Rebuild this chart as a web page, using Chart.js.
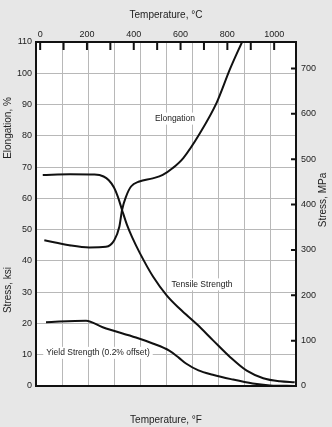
<!DOCTYPE html>
<html>
<head>
<meta charset="utf-8">
<script src="https://cdn.jsdelivr.net/npm/chart.js@4.4.1/dist/chart.umd.min.js"></script>
<style>
html, body { margin: 0; padding: 0; background: #e7e7e7; }
#wrap { width: 332px; height: 427px; }
</style>
</head>
<body>
<div id="wrap"><canvas id="chart" width="332" height="427"></canvas></div>
<script>
// Readings (x in °F, y in % or ksi)
const elongationF   = [64, 256, 410, 538, 602, 641, 662, 692, 731, 795, 898, 975, 1052, 1133, 1262, 1390, 1492, 1585];
const elongationPct = [46.6, 45, 44.3, 44.5, 46.6, 50.9, 56.3, 60.5, 63.8, 65.4, 66.4, 67.5, 69.7, 72.9, 80.9, 90.6, 101.3, 110];

const tensileF   = [52, 262, 450, 520, 560, 600, 630, 662, 700, 740, 800, 900, 1005, 1108, 1236, 1362, 1492, 1621, 1748, 1877, 1990];
const tensileKsi = [67.5, 67.7, 67.6, 67.0, 65.8, 63.5, 60.5, 56.3, 51.5, 47.5, 42.4, 35, 29, 24.6, 19.8, 14.6, 9.3, 4.9, 2.5, 1.5, 1.2];

const yieldF   = [77, 385, 513, 769, 898, 1025, 1100, 1154, 1250, 1360, 1500, 1667, 1800, 1990];
const yieldKsi = [20.4, 20.9, 18.8, 15.5, 13.6, 11.3, 9, 7.2, 5, 3.6, 2.2, 0.8, 0.2, 0];

// axis ticks
const fahrenheitTicks = [0, 200, 400, 600, 800, 1000, 1200, 1400, 1600, 1800, 2000];
const celsiusTicks = [0, 100, 200, 300, 400, 500, 600, 700, 800, 900, 1000];
const ksiTicks = [0, 10, 20, 30, 40, 50, 60, 70, 80, 90, 100, 110];
const mpaTicks = [0, 100, 200, 300, 400, 500, 600, 700];

// curve labels: [text, °F, ksi]
const curveLabels = [
    ['Elongation', 1069, 85.5],
    ['Tensile Strength', 1277, 32.5],
    ['Yield Strength (0.2% offset)', 477, 10.6]
];

const KSI_TO_MPA = 6.895;
const toPoints = (xs, ys) => xs.map((x, i) => ({ x: x, y: ys[i] }));

const lineStyle = {
    borderColor: '#111',
    borderWidth: 2,
    pointRadius: 0,
    cubicInterpolationMode: 'monotone',
    fill: false
};

const FONT = 'Liberation Sans, Arial, sans-serif';

// page background, white plot, labels, inward ticks, side titles
const decorations = {
    id: 'decorations',
    beforeDraw(chart) {
        const { ctx, chartArea: a } = chart;
        ctx.save();
        ctx.fillStyle = '#e7e7e7';
        ctx.fillRect(0, 0, chart.width, chart.height);
        ctx.fillStyle = '#fff';
        ctx.fillRect(a.left, a.top, a.right - a.left, a.bottom - a.top);
        ctx.restore();
    },
    beforeDatasetsDraw(chart) {
        const { ctx, scales } = chart;
        ctx.save();
        ctx.font = '8.5px ' + FONT;
        ctx.textAlign = 'center';
        ctx.textBaseline = 'middle';
        curveLabels.forEach(([text, f, v]) => {
            const px = scales.x.getPixelForValue(f);
            const py = scales.y.getPixelForValue(v);
            const w = ctx.measureText(text).width;
            ctx.fillStyle = '#fff';
            ctx.fillRect(px - w / 2 - 3, py - 6, w + 6, 12);
            ctx.fillStyle = '#222';
            ctx.fillText(text, px, py);
        });
        ctx.restore();
    },
    afterDraw(chart) {
        const { ctx, chartArea: a, scales } = chart;
        ctx.save();
        ctx.strokeStyle = '#111';
        ctx.lineWidth = 2;
        ctx.beginPath();
        scales.xC.ticks.forEach(t => {
            const px = scales.xC.getPixelForValue(t.value);
            ctx.moveTo(px, a.top);
            ctx.lineTo(px, a.top + 8);
        });
        scales.yM.ticks.forEach(t => {
            if (t.value === 0) return;
            const py = scales.yM.getPixelForValue(t.value);
            ctx.moveTo(a.right - 5, py);
            ctx.lineTo(a.right, py);
        });
        ctx.stroke();

        ctx.fillStyle = '#222';
        ctx.font = '10px ' + FONT;
        ctx.textAlign = 'center';
        ctx.textBaseline = 'middle';
        const vtext = (text, x, y) => {
            ctx.save();
            ctx.translate(x, y);
            ctx.rotate(-Math.PI / 2);
            ctx.fillText(text, 0, 0);
            ctx.restore();
        };
        vtext('Elongation, %', 8, 128);
        vtext('Stress, ksi', 8, 290);
        vtext('Stress, MPa', 323, 200);
        ctx.restore();
    }
};

const ctx = document.getElementById('chart').getContext('2d');
new Chart(ctx, {
    type: 'line',
    data: {
        datasets: [
            Object.assign({ label: 'Elongation', data: toPoints(elongationF, elongationPct) }, lineStyle),
            Object.assign({ label: 'Tensile Strength', data: toPoints(tensileF, tensileKsi) }, lineStyle),
            Object.assign({ label: 'Yield Strength', data: toPoints(yieldF, yieldKsi) }, lineStyle)
        ]
    },
    options: {
        responsive: false,
        animation: false,
        layout: { padding: 0 },
        plugins: {
            legend: { display: false },
            tooltip: { enabled: false }
        },
        scales: {
            x: {
                type: 'linear',
                position: 'bottom',
                min: 0,
                max: 2000,
                afterBuildTicks: s => { s.ticks = fahrenheitTicks.map(v => ({ value: v })); },
                afterFit: s => { s.height = 41; },
                ticks: { display: false },
                grid: { color: '#b8b8b8', lineWidth: 1, drawTicks: false },
                border: { color: '#111', width: 2 },
                title: {
                    display: true,
                    text: 'Temperature, °F',
                    color: '#222',
                    font: { family: FONT, size: 10 },
                    padding: { top: 0, bottom: 1 }
                }
            },
            xC: {
                type: 'linear',
                position: 'top',
                min: (0 - 32) / 1.8,
                max: (2000 - 32) / 1.8,
                afterBuildTicks: s => { s.ticks = celsiusTicks.map(v => ({ value: v })); },
                afterFit: s => { s.height = 42; },
                ticks: {
                    color: '#222',
                    font: { family: FONT, size: 9 },
                    padding: 2,
                    maxRotation: 0,
                    autoSkip: false,
                    callback: v => (v % 200 === 0 ? String(v) : '')
                },
                grid: { drawOnChartArea: false, drawTicks: false },
                border: { color: '#111', width: 2 },
                title: {
                    display: true,
                    text: 'Temperature, °C',
                    color: '#222',
                    font: { family: FONT, size: 10 },
                    padding: { top: 9, bottom: 0 }
                }
            },
            y: {
                position: 'left',
                min: 0,
                max: 110,
                afterBuildTicks: s => { s.ticks = ksiTicks.map(v => ({ value: v })); },
                afterFit: s => { s.width = 36; },
                ticks: { color: '#222', font: { family: FONT, size: 9 }, padding: 4 },
                grid: { color: '#b8b8b8', lineWidth: 1, drawTicks: false },
                border: { color: '#111', width: 2 }
            },
            yM: {
                position: 'right',
                min: 0,
                max: 110 * KSI_TO_MPA,
                afterBuildTicks: s => { s.ticks = mpaTicks.map(v => ({ value: v })); },
                afterFit: s => { s.width = 36; },
                ticks: { color: '#222', font: { family: FONT, size: 9 }, padding: 5 },
                grid: { drawOnChartArea: false, drawTicks: false },
                border: { color: '#111', width: 2 }
            }
        }
    },
    plugins: [decorations]
});
</script>
</body>
</html>
